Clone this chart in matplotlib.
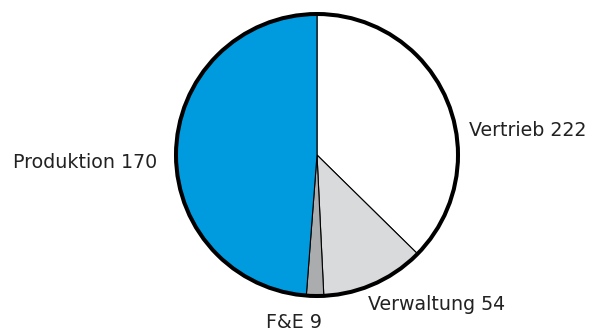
import matplotlib
matplotlib.use("Agg")
import matplotlib.pyplot as plt
from matplotlib.patches import Circle

categories = ["Vertrieb", "Verwaltung", "F&E", "Produktion"]
label_values = [222, 54, 9, 170]
slice_values = [170, 54, 9, 222]
colors = ["#FFFFFF", "#D9DADB", "#ABACAE", "#009BDE"]

W, H = 595, 331
fig = plt.figure(figsize=(W / 100, H / 100), dpi=100)
ax = fig.add_axes([0, 0, 1, 1])

cx, cy, r = 317, H - 155, 141
wedges, _ = ax.pie(slice_values, colors=colors, startangle=90, counterclock=False,
                   center=(cx, cy), radius=r,
                   wedgeprops=dict(edgecolor="black", linewidth=0.8))
ax.add_patch(Circle((cx, cy), r, fill=False, edgecolor="black", linewidth=2.9, zorder=5))

ax.set_xlim(0, W)
ax.set_ylim(0, H)
ax.set_aspect("equal")
ax.axis("off")

labels = [f"{c} {v}" for c, v in zip(categories, label_values)]
positions = [(469, H - 131, "left"), (368, H - 305, "left"),
             (294, H - 322, "center"), (157, H - 163, "right")]
for txt, (x, y, ha) in zip(labels, positions):
    ax.text(x, y, txt, ha=ha, va="center", fontsize=13.7, color="#222222",
            family=["DejaVu Sans"])

fig.savefig("out.png", dpi=100)
